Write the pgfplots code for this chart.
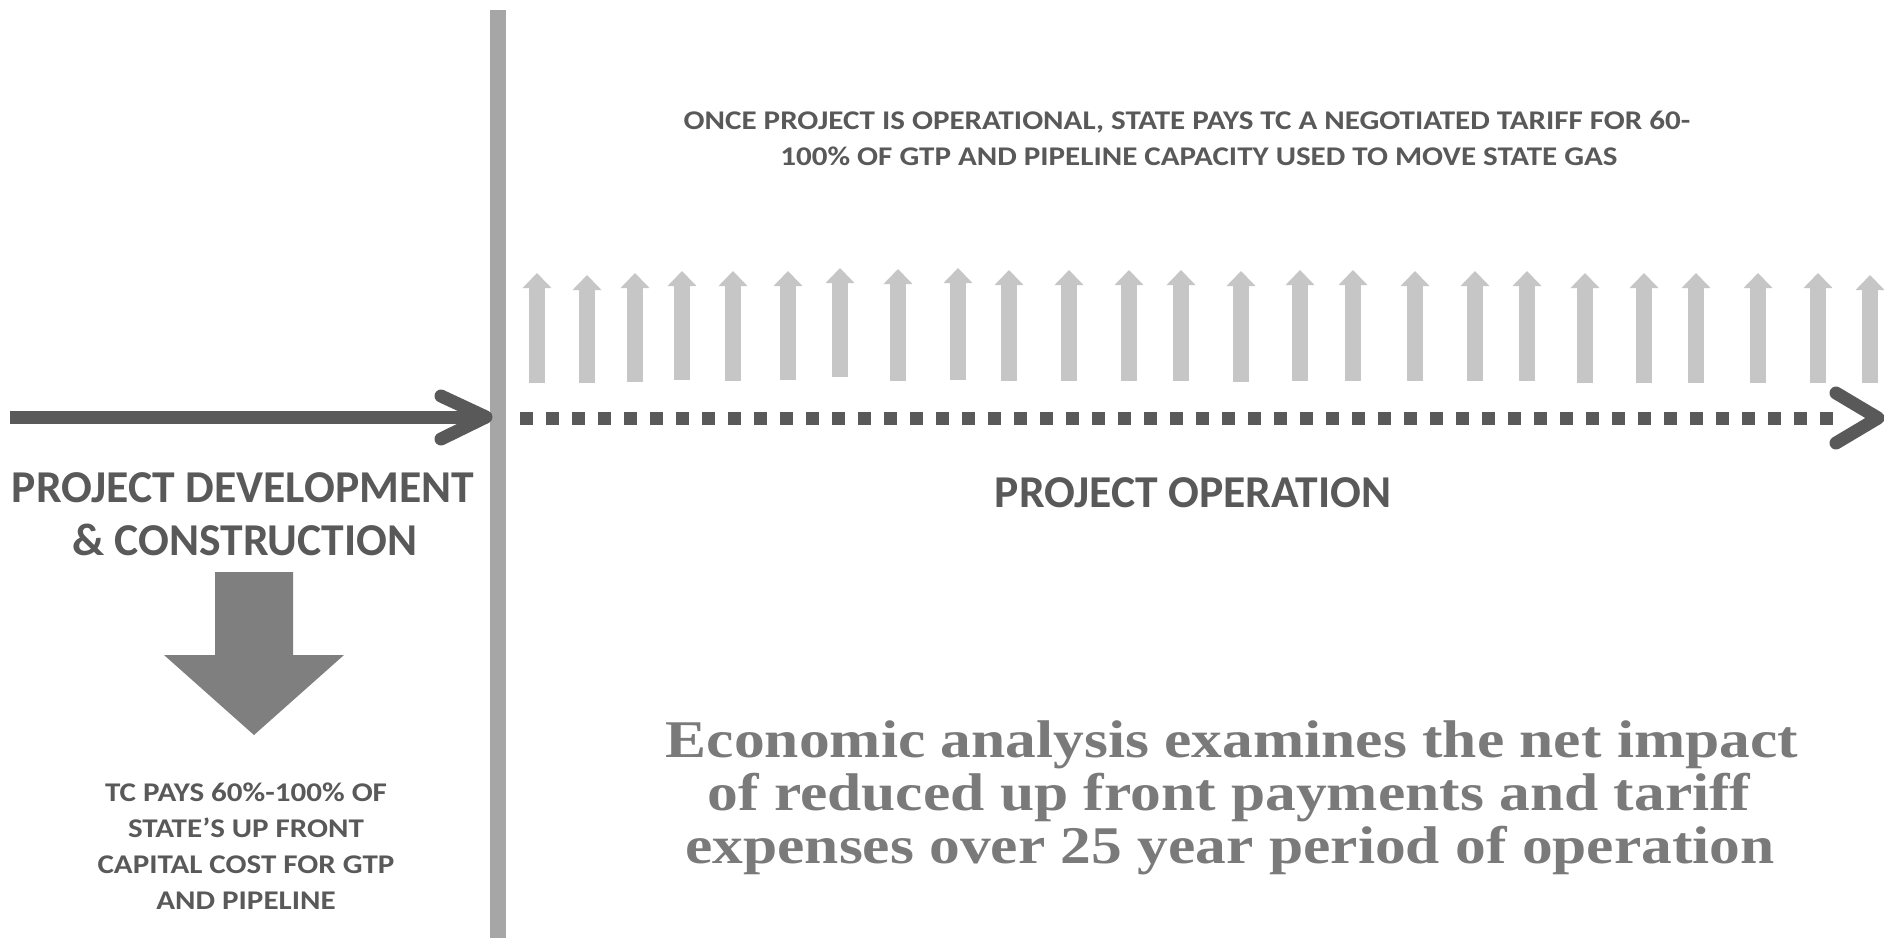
\documentclass[border=0pt]{standalone}
\usepackage{fontspec}
\setmainfont{Carlito}
\newfontfamily\serifbold{Liberation Serif}
\usepackage{pgfplots}
\pgfplotsset{compat=1.18}
\usetikzlibrary{arrows.meta}

\definecolor{darkg}{HTML}{595959}
\definecolor{lineg}{HTML}{A6A6A6}
\definecolor{upg}{HTML}{C6C6C6}
\definecolor{downg}{HTML}{7F7F7F}
\definecolor{serifg}{HTML}{7A7A7A}

% tariff arrows: x, bottom, length (negative = up, y axis reversed)
\pgfplotstableread{
x    y    v
537  383 -110
587  383 -108
635  382 -109
682  380 -109
733  381 -110
788  380 -109
840  377 -109
898  381 -112
958  380 -112
1009 381 -111
1069 381 -111
1129 381 -111
1181 381 -111
1241 382 -111
1300 381 -111
1353 381 -111
1415 381 -110
1475 381 -110
1527 381 -110
1585 383 -110
1644 383 -110
1696 383 -110
1758 383 -110
1818 383 -110
1870 383 -108
}\tariffs

\newcommand{\sm}[1]{\scalebox{1.15}[1]{#1}}
\newcommand{\sr}[1]{\scalebox{1.16}[1]{#1}}

\begin{document}
\begin{tikzpicture}
\begin{axis}[
    hide axis,
    scale only axis,
    width=942pt, height=469pt,
    xmin=0, xmax=1884, ymin=0, ymax=938,
    y dir=reverse,
    clip=true,
]
    % white background
    \addplot[draw=none, fill=white] coordinates {(0,0)(1884,0)(1884,938)(0,938)} -- cycle;

    % vertical divider
    \addplot[lineg, line width=8pt] coordinates {(498,10)(498,938)};

    % development arrow
    \addplot[darkg, line width=6.5pt] coordinates {(10,417)(484,417)};
    \addplot[darkg, line width=6.5pt, line cap=round, line join=round] coordinates {(441,396)(486,417)(441,439)};

    % operation dashed arrow
    \addplot[darkg, line width=6.5pt, dash pattern=on 6.5pt off 6.5pt] coordinates {(520,418)(1842,418)};
    \addplot[darkg, line width=6.5pt, line cap=round, line join=round] coordinates {(1836,393)(1878,418)(1836,443)};

    % tariff payments
    \addplot[upg, line width=8pt, quiver={u=0, v=\thisrow{v}},
        -{Triangle[width=14pt, length=7.5pt]}] table[x=x, y=y] {\tariffs};

    % up front payment arrow
    \addplot[draw=none, fill=downg] coordinates {(215,572)(293,572)(293,655)(344,655)(254,735)(164,655)(215,655)} -- cycle;

    % texts
    \node[anchor=base, inner sep=0, darkg, font=\fontsize{13.5}{13.5}\selectfont\bfseries] at (axis cs:1187,129) {\sm{ONCE PROJECT IS OPERATIONAL, STATE PAYS TC A NEGOTIATED TARIFF FOR 60-}};
    \node[anchor=base, inner sep=0, darkg, font=\fontsize{13.5}{13.5}\selectfont\bfseries] at (axis cs:1199,165) {\sm{100\% OF GTP AND PIPELINE CAPACITY USED TO MOVE STATE GAS}};

    \node[anchor=base, inner sep=0, darkg, font=\fontsize{22.8}{22.8}\selectfont\bfseries] at (axis cs:243,502) {PROJECT DEVELOPMENT};
    \node[anchor=base, inner sep=0, darkg, font=\fontsize{22.8}{22.8}\selectfont\bfseries] at (axis cs:245,555) {\& CONSTRUCTION};
    \node[anchor=base, inner sep=0, darkg, font=\fontsize{22.8}{22.8}\selectfont\bfseries] at (axis cs:1193,507) {PROJECT OPERATION};

    \node[anchor=base, inner sep=0, darkg, font=\fontsize{13.5}{13.5}\selectfont\bfseries] at (axis cs:246,801) {\sm{TC PAYS 60\%-100\% OF}};
    \node[anchor=base, inner sep=0, darkg, font=\fontsize{13.5}{13.5}\selectfont\bfseries] at (axis cs:246,837) {\sm{STATE’S UP FRONT}};
    \node[anchor=base, inner sep=0, darkg, font=\fontsize{13.5}{13.5}\selectfont\bfseries] at (axis cs:246,873) {\sm{CAPITAL COST FOR GTP}};
    \node[anchor=base, inner sep=0, darkg, font=\fontsize{13.5}{13.5}\selectfont\bfseries] at (axis cs:246,909) {\sm{AND PIPELINE}};

    \node[anchor=base, inner sep=0, serifg, font=\fontsize{26.5}{26.5}\serifbold\bfseries] at (axis cs:1232,757) {\sr{Economic analysis examines the net impact}};
    \node[anchor=base, inner sep=0, serifg, font=\fontsize{26.5}{26.5}\serifbold\bfseries] at (axis cs:1229,810) {\sr{of reduced up front payments and tariff}};
    \node[anchor=base, inner sep=0, serifg, font=\fontsize{26.5}{26.5}\serifbold\bfseries] at (axis cs:1230,863) {\sr{expenses over 25 year period of operation}};
\end{axis}
\end{tikzpicture}
\end{document}
